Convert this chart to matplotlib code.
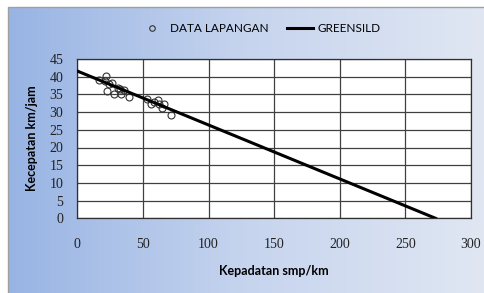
import numpy as np
import matplotlib
matplotlib.use("Agg")
import matplotlib.pyplot as plt
from matplotlib.colors import LinearSegmentedColormap
from matplotlib.patches import Rectangle

# field observations (density smp/km, speed km/jam)
kepadatan = [16.8, 21.0, 21.6, 22.9, 24.2, 26.2, 27.9, 31.2, 32.6, 33.3, 35.7, 39.3,
             53.1, 56.2, 58.7, 61.7, 62.2, 64.7, 66.0, 71.3]
kecepatan = [39.1, 38.7, 40.2, 36.0, 37.9, 38.3, 35.1, 36.7, 36.5, 35.0, 36.3, 34.2,
             33.7, 32.2, 32.9, 33.4, 32.3, 31.2, 32.3, 29.1]

# Greenshields model endpoints
vf = 41.6   # free-flow speed
kj = 273.0  # jam density
model_k = [0, kj]
model_v = [vf, 0]

x_ticks = [0, 50, 100, 150, 200, 250, 300]
y_ticks = [0, 5, 10, 15, 20, 25, 30, 35, 40, 45]

fig = plt.figure(figsize=(4.84, 2.93), dpi=100)

# gradient background (chart area)
bg = fig.add_axes([0, 0, 1, 1], zorder=0)
cmap = LinearSegmentedColormap.from_list("bg", ["#98b4e4", "#c6d4ee", "#e0e7f3"])
bg.imshow(np.linspace(0, 1, 256)[None, :], aspect="auto", cmap=cmap,
          extent=[8 / 484, 1, 0, 1 - 7 / 293])
bg.set_xlim(0, 1)
bg.set_ylim(0, 1)
bg.add_patch(Rectangle((8 / 484, -0.01), 1.0, 1 - 7 / 293 + 0.01,
                       fill=False, edgecolor="#a0a0a0", linewidth=1))
bg.axis("off")

ax = fig.add_axes([77.3 / 484, 1 - 218.3 / 293, (471 - 77.3) / 484, (218.3 - 59) / 293], zorder=1)
ax.set_facecolor("white")
ax.plot(kepadatan, kecepatan, "o", mfc="none", mec="#333333", markersize=5,
        markeredgewidth=0.8, label="DATA LAPANGAN", zorder=3)
ax.plot(model_k, model_v, "-", color="black", linewidth=2.2, label="GREENSILD", zorder=4)

ax.set_xlim(0, 300)
ax.set_ylim(0, 45)
ax.set_xticks(x_ticks)
ax.set_yticks(y_ticks)
ax.grid(True, color="#404040", linewidth=0.9)
ax.set_axisbelow(True)
for s in ax.spines.values():
    s.set_color("#303030")
    s.set_linewidth(0.9)
ax.tick_params(length=0, labelsize=10, colors="#222222")
ax.tick_params(axis="y", pad=10)
ax.tick_params(axis="x", pad=14)
for lbl in ax.get_xticklabels() + ax.get_yticklabels():
    lbl.set_family("Liberation Serif")

ax.set_xlabel("Kepadatan smp/km", fontsize=9, fontweight="bold", family="Lato", labelpad=10)
ax.set_ylabel("Kecepatan km/jam", fontsize=9, fontweight="bold", family="Lato", labelpad=8)

handles, labels = ax.get_legend_handles_labels()
fig.legend(handles, labels, loc="center", bbox_to_anchor=(260 / 484, 1 - 29 / 293), ncol=2,
           frameon=False, prop={"family": "Lato", "size": 8.5}, handlelength=2.2,
           columnspacing=1.6, handletextpad=0.4, markerscale=0.8)

fig.savefig("out.png", dpi=100)
